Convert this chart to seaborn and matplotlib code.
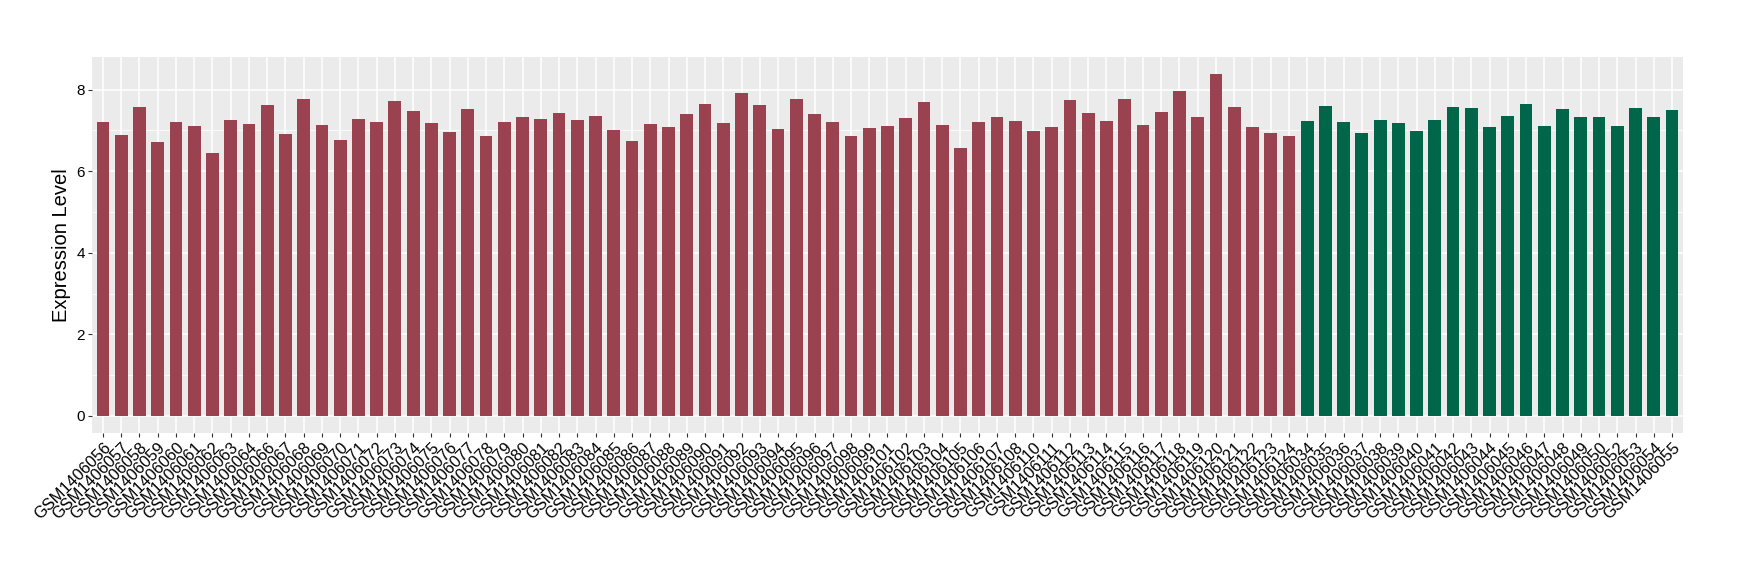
import matplotlib
matplotlib.use("Agg")
import matplotlib.pyplot as plt
import matplotlib.ticker as mticker
import pandas as pd
import seaborn as sns

# Samples (order as drawn) and expression values
red_samples = ["GSM1406056", "GSM1406057", "GSM1406058", "GSM1406059", "GSM1406060",
               "GSM1406061", "GSM1406062", "GSM1406063", "GSM1406064", "GSM1406066",
               "GSM1406067", "GSM1406068", "GSM1406069", "GSM1406070", "GSM1406071",
               "GSM1406072", "GSM1406073", "GSM1406074", "GSM1406075", "GSM1406076",
               "GSM1406077", "GSM1406078", "GSM1406079", "GSM1406080", "GSM1406081",
               "GSM1406082", "GSM1406083", "GSM1406084", "GSM1406085", "GSM1406086",
               "GSM1406087", "GSM1406088", "GSM1406089", "GSM1406090", "GSM1406091",
               "GSM1406092", "GSM1406093", "GSM1406094", "GSM1406095", "GSM1406096",
               "GSM1406097", "GSM1406098", "GSM1406099", "GSM1406101", "GSM1406102",
               "GSM1406103", "GSM1406104", "GSM1406105", "GSM1406106", "GSM1406107",
               "GSM1406108", "GSM1406110", "GSM1406111", "GSM1406112", "GSM1406113",
               "GSM1406114", "GSM1406115", "GSM1406116", "GSM1406117", "GSM1406118",
               "GSM1406119", "GSM1406120", "GSM1406121", "GSM1406122", "GSM1406123",
               "GSM1406124"]
red_values = [7.20, 6.88, 7.57, 6.71, 7.20, 7.10, 6.44, 7.25, 7.15, 7.62,
              6.91, 7.76, 7.13, 6.76, 7.27, 7.20, 7.71, 7.47, 7.18, 6.96,
              7.52, 6.86, 7.20, 7.32, 7.27, 7.42, 7.25, 7.35, 7.00, 6.73,
              7.15, 7.08, 7.40, 7.64, 7.18, 7.91, 7.62, 7.03, 7.76, 7.40,
              7.20, 6.86, 7.05, 7.10, 7.30, 7.69, 7.13, 6.56, 7.20, 7.32,
              7.22, 6.98, 7.08, 7.74, 7.42, 7.22, 7.76, 7.13, 7.44, 7.96,
              7.32, 8.38, 7.57, 7.08, 6.93, 6.86]

green_samples = ["GSM1406034", "GSM1406035", "GSM1406036", "GSM1406037", "GSM1406038",
                 "GSM1406039", "GSM1406040", "GSM1406041", "GSM1406042", "GSM1406043",
                 "GSM1406044", "GSM1406045", "GSM1406046", "GSM1406047", "GSM1406048",
                 "GSM1406049", "GSM1406050", "GSM1406052", "GSM1406053", "GSM1406054",
                 "GSM1406055"]
green_values = [7.22, 7.59, 7.20, 6.93, 7.25, 7.18, 6.98, 7.25, 7.57, 7.54,
                7.08, 7.35, 7.64, 7.10, 7.52, 7.32, 7.32, 7.10, 7.54, 7.32,
                7.49]

group_colors = {"red": "#9A4250", "green": "#00664A"}

df = pd.DataFrame({
    "sample": red_samples + green_samples,
    "value": red_values + green_values,
    "group": ["red"] * len(red_samples) + ["green"] * len(green_samples),
})

sns.set_theme(style="darkgrid")
plt.rcParams["font.family"] = ["Liberation Sans", "DejaVu Sans"]

fig = plt.figure(figsize=(17.4, 5.8), dpi=100)
ax = fig.add_axes([92 / 1740, 1 - 433 / 580, (1683 - 92) / 1740, (433 - 57) / 580])
ax.set_facecolor("#EBEBEB")

sns.barplot(data=df, x="sample", y="value", hue="group", palette=group_colors,
            order=df["sample"], dodge=False, width=0.7, saturation=1,
            linewidth=0, legend=False, ax=ax)

ax.set_xlim(-0.6, len(df) - 0.4)
ax.set_ylim(-0.419, 8.80)
ax.yaxis.set_major_locator(mticker.MultipleLocator(2))
ax.yaxis.set_minor_locator(mticker.MultipleLocator(1))
ax.grid(which="major", color="white", linewidth=1.1)
ax.grid(which="minor", axis="y", color="white", linewidth=0.55)
ax.set_axisbelow(True)
for s in ax.spines.values():
    s.set_visible(False)

ax.tick_params(axis="both", which="major", bottom=True, left=True, length=3,
               width=0.8, color="#333333", labelcolor="black", pad=2)
ax.tick_params(axis="y", which="minor", left=False)
ax.tick_params(axis="y", labelsize=11)
plt.setp(ax.get_xticklabels(), rotation=45, ha="right", va="top",
         rotation_mode="anchor", fontsize=11.8)

ax.set_xlabel("")
ax.set_ylabel("Expression Level", fontsize=14.5, color="black", labelpad=4)

fig.savefig("out.png", dpi=100, facecolor="white")
